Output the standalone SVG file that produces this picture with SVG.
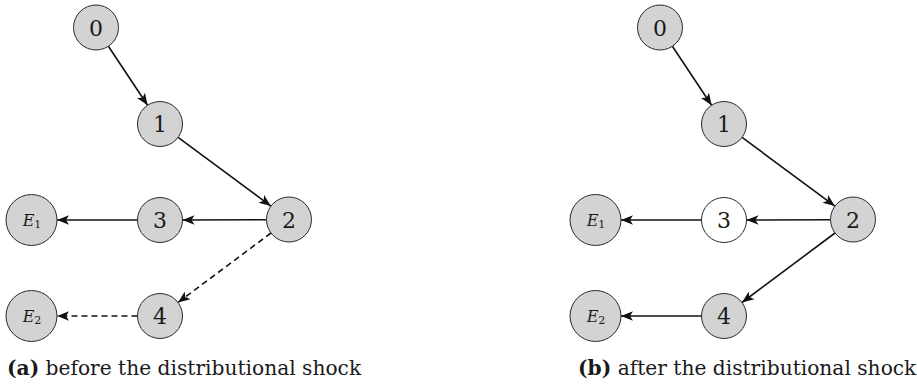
<svg xmlns="http://www.w3.org/2000/svg" width="917" height="388" viewBox="0 0 917 388">
<style>
.n{fill:#d2d3d2;stroke:#2a2a2a;stroke-width:1}
.w{fill:#ffffff;stroke:#2a2a2a;stroke-width:1}
.t{font-family:"DejaVu Serif","Liberation Serif",serif;font-size:22px;fill:#1a1a1a;text-anchor:middle}
.x{font-family:"DejaVu Serif","Liberation Serif",serif;fill:#1a1a1a;text-anchor:middle}
.e{font-size:16px;font-style:italic}
.s{font-size:11px}
.c{font-family:"DejaVu Serif","Liberation Serif",serif;font-size:20.2px;fill:#1a1a1a}
.l{stroke:#111;stroke-width:1.6;fill:none;marker-end:url(#ah)}
.d{stroke-dasharray:6,4}
</style>
<defs>
<marker id="ah" markerUnits="userSpaceOnUse" viewBox="-13 -6 15 12" refX="0" refY="0" markerWidth="15" markerHeight="12" orient="auto">
<path d="M0,0 L-12,-4.8 L-9,0 L-12,4.8 Z" fill="#111"/>
</marker>
</defs>
<g id="connectors">
<line class="l" x1="108.4" y1="46.2" x2="147.6" y2="105.3"/>
<line class="l" x1="178.1" y1="137.4" x2="270.9" y2="206.1"/>
<line class="l" x1="266.5" y1="219.7" x2="182.5" y2="220"/>
<line class="l" x1="137.5" y1="220" x2="57" y2="220"/>
<line class="l d" x1="271" y1="233" x2="178" y2="302.5"/>
<line class="l d" x1="137.5" y1="316" x2="57" y2="316"/>
<line class="l" x1="672.4" y1="46.2" x2="711.6" y2="105.3"/>
<line class="l" x1="742.1" y1="137.4" x2="834.9" y2="206.1"/>
<line class="l" x1="830.5" y1="219.7" x2="746.5" y2="220"/>
<line class="l" x1="701.5" y1="220" x2="621" y2="220"/>
<line class="l" x1="835" y1="233" x2="742" y2="302.5"/>
<line class="l" x1="701.5" y1="316" x2="621" y2="316"/>
</g>
<g id="a0"><circle class="n" cx="96" cy="27.5" r="22.5"/><text class="t" x="96" y="35.5">0</text></g>
<g id="a1"><circle class="n" cx="160" cy="124" r="22.5"/><text class="t" x="160" y="132">1</text></g>
<g id="a2"><circle class="n" cx="289" cy="219.5" r="22.5"/><text class="t" x="289" y="227.5">2</text></g>
<g id="a3"><circle class="n" cx="160" cy="220" r="22.5"/><text class="t" x="160" y="228">3</text></g>
<g id="a4"><circle class="n" cx="160" cy="316" r="22.5"/><text class="t" x="160" y="324">4</text></g>
<g id="aE1"><circle class="n" cx="31.5" cy="220" r="25.5"/><text class="x" x="32" y="225.5"><tspan class="e">E</tspan><tspan class="s" dy="2">1</tspan></text></g>
<g id="aE2"><circle class="n" cx="31.5" cy="316" r="25.5"/><text class="x" x="32" y="321.5"><tspan class="e">E</tspan><tspan class="s" dy="2">2</tspan></text></g>
<g id="b0"><circle class="n" cx="660" cy="27.5" r="22.5"/><text class="t" x="660" y="35.5">0</text></g>
<g id="b1"><circle class="n" cx="724" cy="124" r="22.5"/><text class="t" x="724" y="132">1</text></g>
<g id="b2"><circle class="n" cx="853" cy="219.5" r="22.5"/><text class="t" x="853" y="227.5">2</text></g>
<g id="b3"><circle class="w" cx="724" cy="220" r="22.5"/><text class="t" x="724" y="228">3</text></g>
<g id="b4"><circle class="n" cx="724" cy="316" r="22.5"/><text class="t" x="724" y="324">4</text></g>
<g id="bE1"><circle class="n" cx="595.5" cy="220" r="25.5"/><text class="x" x="596" y="225.5"><tspan class="e">E</tspan><tspan class="s" dy="2">1</tspan></text></g>
<g id="bE2"><circle class="n" cx="595.5" cy="316" r="25.5"/><text class="x" x="596" y="321.5"><tspan class="e">E</tspan><tspan class="s" dy="2">2</tspan></text></g>
<text class="c" x="7" y="375"><tspan font-weight="bold">(a)</tspan> before the distributional shock</text>
<text class="c" x="578" y="375"><tspan font-weight="bold">(b)</tspan> after the distributional shock</text>
</svg>
